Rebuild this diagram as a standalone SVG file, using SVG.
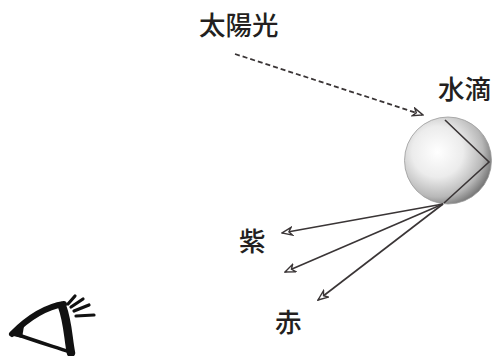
<svg xmlns="http://www.w3.org/2000/svg" width="495" height="356" viewBox="0 0 495 356">
  <style>
    .lbl { font-family: "Noto Sans CJK JP", "Noto Sans CJK SC", sans-serif; font-size: 26.5px; font-weight: 500; fill: #231f20; }
    .ray { stroke: #3a3536; stroke-width: 1.6; fill: none; marker-end: url(#arrowOpen); }
    .sun { stroke: #3a3536; stroke-width: 1.8; fill: none; stroke-dasharray: 5 3; marker-end: url(#arrowOpen); }
    .lash { fill: none; stroke: #111; stroke-width: 3.2; stroke-linecap: round; }
  </style>
  <defs>
    <marker id="arrowOpen" viewBox="0 0 12 10" refX="11" refY="5" markerWidth="12" markerHeight="10" markerUnits="userSpaceOnUse" orient="auto">
      <path d="M1,1 L11,5 L1,9 L4,5 Z" fill="#fff" stroke="#3a3536" stroke-width="1.4" stroke-linejoin="miter"/>
    </marker>
    <radialGradient id="dropShade" cx="0.38" cy="0.4" r="0.65">
      <stop offset="0" stop-color="#ffffff"/>
      <stop offset="0.45" stop-color="#ececec"/>
      <stop offset="0.8" stop-color="#b8b8b8"/>
      <stop offset="1" stop-color="#767676"/>
    </radialGradient>
  </defs>

  <g id="sunlight-label">
    <text class="lbl" x="199" y="35">太陽光</text>
  </g>

  <g id="droplet">
    <circle cx="448" cy="160.5" r="43.5" fill="url(#dropShade)" stroke="#9a9a9a" stroke-width="0.8"/>
    <path d="M445,120 L489,162 L444,203" fill="none" stroke="#3a3536" stroke-width="1.6"/>
    <text class="lbl" x="438" y="99">水滴</text>
  </g>

  <g id="violet-label">
    <text class="lbl" x="239" y="251">紫</text>
  </g>

  <g id="red-label">
    <text class="lbl" x="275" y="332">赤</text>
  </g>

  <g id="eye">
    <path d="M12,334 C28,318 44,307 64,304" fill="none" stroke="#111" stroke-width="6" stroke-linecap="round"/>
    <path d="M13,333 C32,340 52,346 70,352" fill="none" stroke="#111" stroke-width="3.5" stroke-linecap="round"/>
    <path d="M62,306 C68,322 68,338 71,353" fill="none" stroke="#111" stroke-width="8.5" stroke-linecap="round"/>
    <path d="M9,335 L24,326 L22,338 Z" fill="#111"/>
    <path class="lash" d="M68,304 L75,296"/>
    <path class="lash" d="M71,307 L83,299"/>
    <path class="lash" d="M74,311 L89,305"/>
    <path class="lash" d="M76,316 L94,315"/>
  </g>

  <g id="connectors">
    <line class="sun" x1="235" y1="54" x2="423" y2="115"/>
    <line class="ray" x1="443" y1="204" x2="282" y2="233"/>
    <line class="ray" x1="443" y1="204" x2="285" y2="272"/>
    <line class="ray" x1="443" y1="204" x2="318" y2="300"/>
  </g>
</svg>
